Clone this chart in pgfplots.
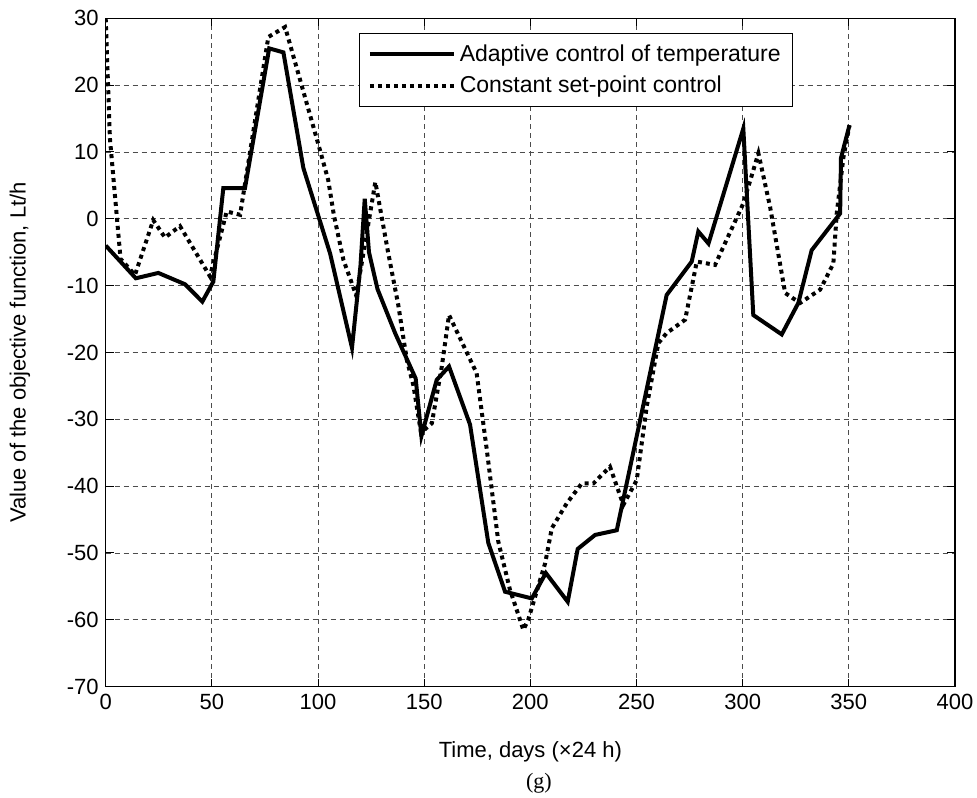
\documentclass[border=0pt]{standalone}
\usepackage{pgfplots}
\pgfplotsset{compat=1.18}
\usepackage{fontspec}
\setmainfont{Liberation Sans}
\newfontfamily\seriffont{Liberation Serif}
\begin{document}
\begin{tikzpicture}
\begin{axis}[
  scale only axis,
  width=424.7pt, height=334.2pt,
  xmin=0, xmax=400, ymin=-70, ymax=30,
  xtick={0,50,...,400}, ytick={-70,-60,...,30},
  tick align=inside, tick pos=both,
  major tick length=4pt,
  grid=major,
  major grid style={dash pattern=on 2.5pt off 2pt, black!70, line width=0.4pt},
  axis line style={line width=0.6pt},
  tick style={line width=0.5pt, black},
  font=\fontsize{11}{13}\selectfont,
  tick label style={font=\fontsize{11}{13}\selectfont},
  /pgf/number format/assume math mode=true,
  xlabel={Time, days (×24 h)},
  ylabel={Value of the objective function, Lt/h},
  xlabel style={at={(axis description cs:0.5,-0.0972)}, anchor=center},
  ylabel style={at={(axis description cs:-0.1009,0.5)}, anchor=center, rotate=0},
  legend style={at={(0.2986,0.978)}, anchor=north west, draw=black, line width=0.5pt,
    fill=white, font=\fontsize{11.5}{14}\selectfont, row sep=2pt,
    inner xsep=4pt, inner ysep=3.5pt},
  legend cell align=left,
  legend image code/.code={\draw[#1] (0pt,0pt) -- (42pt,0pt);},
  after end axis/.code={\node[font=\seriffont\fontsize{11}{13}\selectfont] at (axis description cs:0.51,-0.144) {(g)};},
]
\addplot[black, line width=2pt, line join=miter] coordinates {
(0,-4) (14.2,-8.9) (24.8,-8.1) (37.4,-9.8) (45.5,-12.4) (50.7,-9.4)
(55.4,4.6) (65.6,4.6) (77,25.5) (83.7,24.9) (93.1,7.6) (105.7,-5.2)
(116,-19.3) (120,-7) (122,3) (124,-5) (128,-10.5) (136.3,-17.1)
(146,-23.9) (148.7,-32.5) (155.9,-24.1) (161.7,-22.1) (171.6,-30.8)
(180.2,-48.5) (188.1,-55.8) (200.7,-56.8) (207.3,-53) (217.6,-57.3)
(222.3,-49.4) (230.5,-47.3) (240.7,-46.6) (264.2,-11.4) (276,-6.4)
(279.1,-1.9) (283.9,-3.7) (300.3,13.5) (305,-14.4) (318.4,-17.3)
(326.2,-12.6) (332.5,-4.7) (345.9,0.8) (346.3,9.1) (350.3,14)
};
\addlegendentry{Adaptive control of temperature}
\addplot[black, line width=2pt, dash pattern=on 2pt off 2pt] coordinates {
(0,30) (2,12) (7,-6) (13.8,-8.4) (22.4,-0.2) (27.9,-2.8) (35,-1.1)
(49.1,-8.6) (57,1.1) (63.3,0.6) (76.6,27.2) (84.5,28.7) (100.9,10.3)
(104.8,5.8) (107.5,0.5) (112,-6.2) (114.3,-8.2) (118,-11.5) (127,5.5)
(133,-5) (137.8,-12.9) (141.8,-21.1) (144.9,-24.9) (148.5,-32)
(153.6,-30.6) (158.3,-22.1) (161.7,-14.4) (174.7,-23.1) (179.5,-34.6)
(184.9,-48.3) (190.4,-55.5) (196.7,-61.5) (199,-60) (207,-51.5)
(210.1,-46.3) (217.1,-42.6) (224.2,-39.6) (229.7,-39.6) (237.5,-37.1)
(243.8,-42.8) (250.1,-39.1) (254.8,-28.1) (260.3,-18.6) (264.2,-17.1)
(272.9,-15.1) (278.4,-6.4) (287,-6.9) (300.3,2.3) (307.4,9.8)
(312.9,1.8) (320,-11.1) (327,-12.6) (336.5,-10.6) (342.7,-6.7)
(344.3,0.8) (347.4,9.1) (350.3,14)
};
\addlegendentry{Constant set-point control}
\coordinate (SW) at (rel axis cs:0,0);
\coordinate (NE) at (rel axis cs:1,1);
\end{axis}
\pgfresetboundingbox
\useasboundingbox ([xshift=-52.85pt,yshift=-55.65pt]SW) rectangle ([xshift=11pt,yshift=9.15pt]NE);
\end{tikzpicture}
\end{document}
